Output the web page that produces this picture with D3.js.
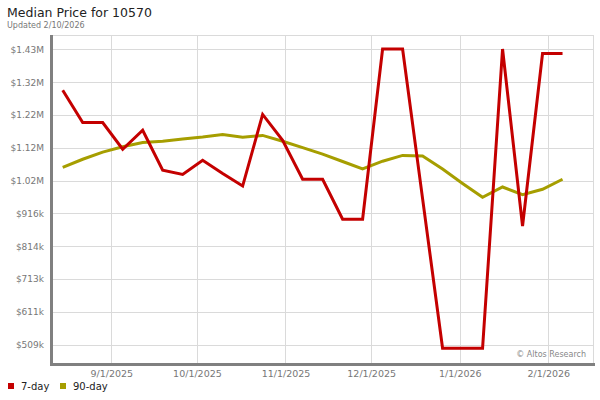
<!DOCTYPE html>
<html>
<head>
<meta charset="utf-8">
<script src="https://cdn.jsdelivr.net/npm/d3@7"></script>
<style>
  body { margin: 0; background: #fff; }
  svg { display: block; font-family: "DejaVu Sans", Verdana, sans-serif; }
</style>
</head>
<body>
<svg id="chart" width="600" height="400"></svg>
<script>
// weekly sample dates
const weekDates = [
  "2025-08-15", "2025-08-22", "2025-08-29", "2025-09-05", "2025-09-12", "2025-09-19",
  "2025-09-26", "2025-10-03", "2025-10-10", "2025-10-17", "2025-10-24", "2025-10-31",
  "2025-11-07", "2025-11-14", "2025-11-21", "2025-11-28", "2025-12-05", "2025-12-12",
  "2025-12-19", "2025-12-26", "2026-01-02", "2026-01-09", "2026-01-16", "2026-01-23",
  "2026-01-30", "2026-02-06"
];

// 7-day median price
const sevenDay = [
  1298000, 1198000, 1198000, 1115000, 1174000, 1050000,
  1037000, 1081000, 1040000, 1001000, 1223000, 1143000,
  1022000, 1022000, 898000, 898000, 1426000, 1426000,
  962000, 498000, 498000, 498000, 1426000, 877000,
  1412000, 1412000
];

// 90-day median price
const ninetyDay = [
  1059000, 1084000, 1106000, 1123000, 1136000, 1140000,
  1147000, 1153000, 1161000, 1152000, 1158000, 1140000,
  1120000, 1100000, 1077000, 1054000, 1078000, 1096000,
  1094000, 1054000, 1009000, 966000, 998000, 974000,
  991000, 1022000
];

const yTickValues = [509000, 611000, 713000, 814000, 916000, 1018000, 1120000, 1221000, 1323000, 1425000];
const yTickLabels = ["$509k", "$611k", "$713k", "$814k", "$916k", "$1.02M", "$1.12M", "$1.22M", "$1.32M", "$1.43M"];

const xTickDates = ["2025-09-01", "2025-10-01", "2025-11-01", "2025-12-01", "2026-01-01", "2026-02-01"];
const xTickLabels = ["9/1/2025", "10/1/2025", "11/1/2025", "12/1/2025", "1/1/2026", "2/1/2026"];

const seriesNames = ["7-day", "90-day"];
const seriesColors = ["#c40000", "#a69e00"];

const parseDay = d3.timeParse("%Y-%m-%d");

const svg = d3.select("#chart");
const plotL = 52, plotR = 593, plotT = 35, plotB = 364;

const x = d3.scaleTime()
  .domain([new Date(2025, 7, 11, 6), new Date(2026, 1, 16, 16)])
  .range([plotL, plotR]);

const y = d3.scaleLinear()
  .domain([449150, 1469340])
  .range([plotB, plotT]);

// title
svg.append("text")
  .attr("x", 7).attr("y", 17)
  .attr("font-size", 12.5)
  .attr("fill", "#222")
  .text("Median Price for 10570");
svg.append("text")
  .attr("x", 7).attr("y", 28)
  .attr("font-size", 8)
  .attr("fill", "#777")
  .text("Updated 2/10/2026");

// grid
const grid = svg.append("g").attr("stroke", "#dadada").attr("stroke-width", 1);
grid.selectAll(".hg")
  .data(yTickValues)
  .join("line")
  .attr("x1", plotL).attr("x2", plotR)
  .attr("y1", d => Math.round(y(d)) + 0.5)
  .attr("y2", d => Math.round(y(d)) + 0.5);
grid.selectAll(".vg")
  .data(xTickDates)
  .join("line")
  .attr("x1", d => Math.round(x(parseDay(d))) + 0.5)
  .attr("x2", d => Math.round(x(parseDay(d))) + 0.5)
  .attr("y1", plotT).attr("y2", plotB);
grid.append("line").attr("x1", plotL).attr("x2", plotR).attr("y1", plotT + 0.5).attr("y2", plotT + 0.5);
grid.append("line").attr("x1", plotR + 0.5).attr("x2", plotR + 0.5).attr("y1", plotT).attr("y2", plotB);

// y axis labels
const yAxis = d3.axisLeft(y)
  .tickValues(yTickValues)
  .tickFormat((d, i) => yTickLabels[i])
  .tickSize(0)
  .tickPadding(8);
const yg = svg.append("g").attr("transform", `translate(${plotL},0)`).call(yAxis);
yg.select(".domain").remove();
yg.selectAll("text").attr("font-size", 9).attr("fill", "#777");
yg.attr("font-family", null);

// x axis labels
const xAxis = d3.axisBottom(x)
  .tickValues(xTickDates.map(parseDay))
  .tickFormat((d, i) => xTickLabels[i])
  .tickSize(0)
  .tickPadding(6);
const xg = svg.append("g").attr("transform", `translate(0,${plotB})`).call(xAxis);
xg.select(".domain").remove();
xg.selectAll("text").attr("font-size", 9.5).attr("fill", "#777");
xg.attr("font-family", null);

// copyright
svg.append("text")
  .attr("x", 586).attr("y", 357)
  .attr("text-anchor", "end")
  .attr("font-size", 8)
  .attr("fill", "#888")
  .text("\u00a9 Altos Research");

// lines
const line = d3.line()
  .x((d, i) => x(parseDay(weekDates[i])))
  .y(d => y(d));

svg.append("path")
  .datum(ninetyDay)
  .attr("fill", "none")
  .attr("stroke", seriesColors[1])
  .attr("stroke-width", 3)
  .attr("d", line);

svg.append("path")
  .datum(sevenDay)
  .attr("fill", "none")
  .attr("stroke", seriesColors[0])
  .attr("stroke-width", 3)
  .attr("d", line);

// axis lines
svg.append("line")
  .attr("x1", 51.5).attr("x2", 51.5)
  .attr("y1", plotT).attr("y2", plotB + 2)
  .attr("stroke", "#808080").attr("stroke-width", 3);
svg.append("line")
  .attr("x1", 50).attr("x2", 595)
  .attr("y1", plotB + 0.5).attr("y2", plotB + 0.5)
  .attr("stroke", "#808080").attr("stroke-width", 3);

// legend
const legendX = [8, 60];
const legend = svg.append("g");
seriesNames.forEach((name, i) => {
  legend.append("rect")
    .attr("x", legendX[i]).attr("y", 383)
    .attr("width", 6).attr("height", 6)
    .attr("fill", seriesColors[i]);
  legend.append("text")
    .attr("x", legendX[i] + 13).attr("y", 389.5)
    .attr("font-size", 10)
    .attr("fill", "#222")
    .text(name);
});
</script>
</body>
</html>
